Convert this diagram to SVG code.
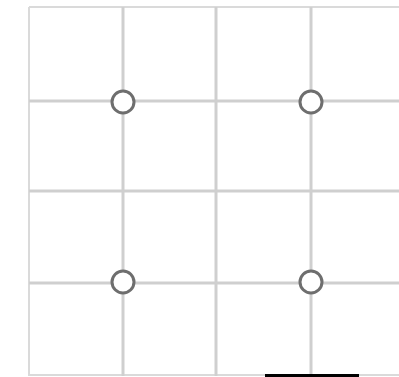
<svg xmlns="http://www.w3.org/2000/svg" width="399" height="377" viewBox="0 0 399 377">
<style>
.border{stroke:#dadada;stroke-width:2;fill:none}
.grid{stroke:#cfcfcf;stroke-width:3;fill:none}
.pt{fill:#ffffff;stroke:#6e6e6e;stroke-width:3}
</style>
<rect width="399" height="377" fill="#ffffff"/>
<g id="connectors">
<line class="border" x1="29" y1="7" x2="399" y2="7"/>
<line class="border" x1="29" y1="7" x2="29" y2="376"/>
<line class="border" x1="29" y1="375" x2="399" y2="375"/>
<line class="grid" x1="123" y1="7" x2="123" y2="376"/>
<line class="grid" x1="216" y1="7" x2="216" y2="376"/>
<line class="grid" x1="311" y1="7" x2="311" y2="376"/>
<line class="grid" x1="29" y1="101" x2="399" y2="101"/>
<line class="grid" x1="29" y1="191" x2="399" y2="191"/>
<line class="grid" x1="29" y1="283" x2="399" y2="283"/>
</g>
<g id="p1"><circle class="pt" cx="123" cy="102" r="11"/></g>
<g id="p2"><circle class="pt" cx="311" cy="102" r="11"/></g>
<g id="p3"><circle class="pt" cx="123" cy="282" r="11"/></g>
<g id="p4"><circle class="pt" cx="311" cy="282" r="11"/></g>
<rect x="265" y="374" width="94" height="3" fill="#000000"/>
</svg>
